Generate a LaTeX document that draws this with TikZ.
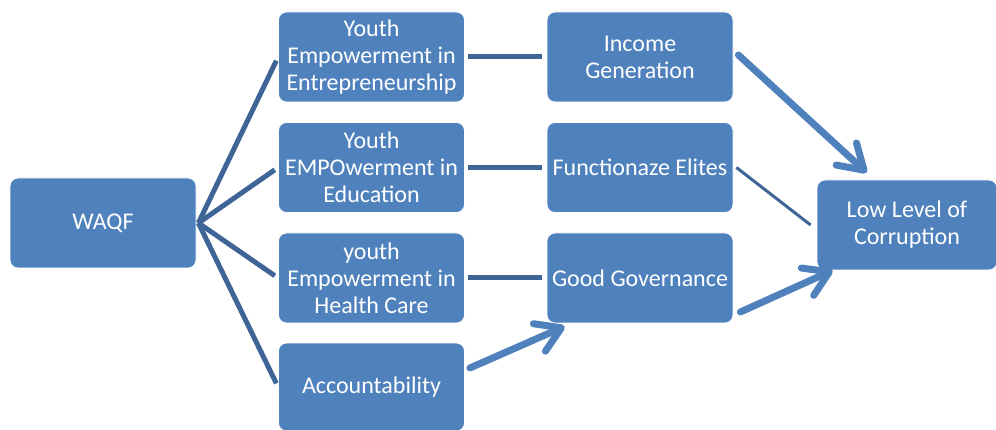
\documentclass[tikz,border=0pt]{standalone}
\usepackage{fontspec}
\setmainfont{Carlito}
\usetikzlibrary{calc,arrows.meta}
\definecolor{boxblue}{HTML}{4F81BD}
\definecolor{linedark}{HTML}{3F6597}
\tikzset{
  box/.style={rectangle, rounded corners=8pt, fill=boxblue, draw=white, line width=0.8pt,
    text=white, minimum width=186pt, minimum height=90pt, align=center, inner sep=2pt,
    font=\fontsize{24}{27}\selectfont},
  conn/.style={draw=linedark, line width=5pt},
  thinconn/.style={draw=linedark, line width=3pt},
  bigarrow/.style={draw=boxblue, line width=7pt, line cap=round,
    -{Straight Barb[length=24pt,width=30pt,line cap=round,line join=round]}},
}
\begin{document}
\begin{tikzpicture}[x=1pt,y=-1pt]
\useasboundingbox (0,0) rectangle (996,430);
\node[box] (waqf) at (103,223) {WAQF};
\node[box] (b1) at (371.5,57) {Youth\\Empowerment in\\Entrepreneurship};
\node[box] (b2) at (371.5,167.5) {Youth\\EMPOwerment in\\Education};
\node[box] (b3) at (371.5,278) {youth\\Empowerment in\\Health Care};
\node[box, minimum height=88pt] (b4) at (371.5,387) {Accountability};
\node[box] (c1) at (640,57) {Income\\Generation};
\node[box] (c2) at (640,167.5) {Functionaze Elites};
\node[box] (c3) at (640,278) {Good Governance};
\node[box, minimum width=180pt] (r) at (907,225) {Low Level of\\Corruption};

\foreach \b in {b1,b2,b3,b4}{
  \draw[conn, shorten >=4pt] ($(waqf.east)+(2,0)$) -- (\b.west);
}
\draw[conn, shorten <=3pt, shorten >=5pt] (b1.east) -- (c1.west);
\draw[conn, shorten <=3pt, shorten >=5pt] (b2.east) -- (c2.west);
\draw[conn, shorten <=3pt, shorten >=5pt] (b3.east) -- (c3.west);

\draw[bigarrow] ($(c1.east)+(5,-2)$) -- ($(r.north west)+(50,-7)$);
\draw[thinconn] ($(c2.east)+(3,0)$) -- ($(r.west)+(-6,0)$);
\draw[bigarrow] ($(c3.east)+(7,34)$) -- ($(r.south west)+(16,0)$);
\draw[bigarrow] ($(b4.east)+(5,-19)$) -- ($(c3.south west)+(18,3)$);
\end{tikzpicture}
\end{document}
